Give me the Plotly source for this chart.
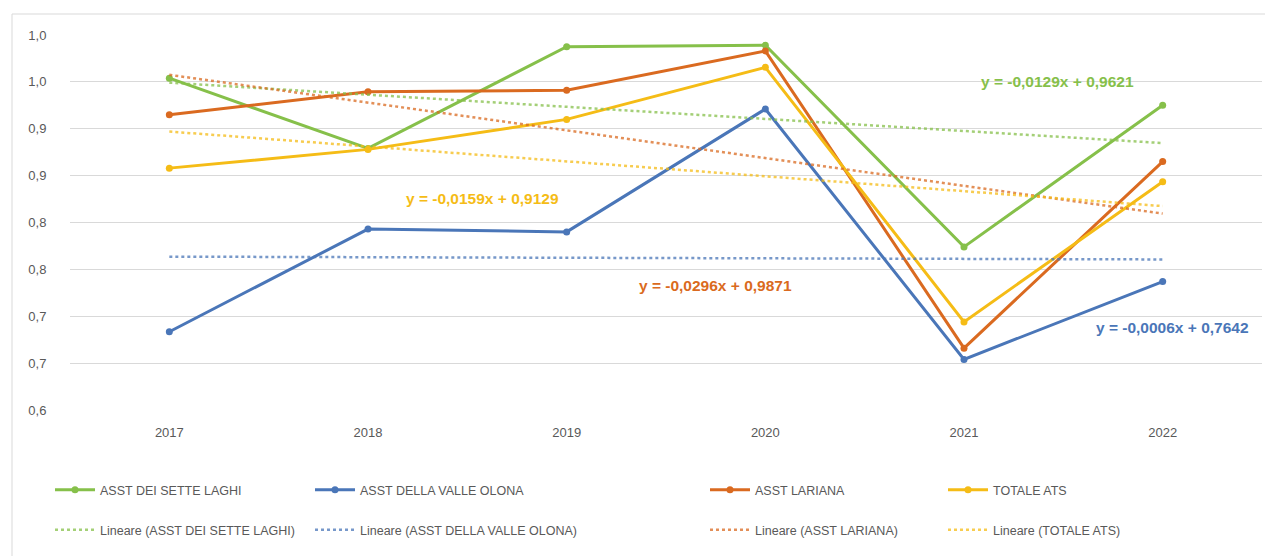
import plotly.graph_objects as go

years = ["2017", "2018", "2019", "2020", "2021", "2022"]
series_names = ["ASST DEI SETTE LAGHI", "ASST DELLA VALLE OLONA", "ASST LARIANA", "TOTALE ATS"]
sette_laghi = [0.954, 0.879, 0.9875, 0.989, 0.774, 0.925]
valle_olona = [0.6835, 0.793, 0.790, 0.921, 0.654, 0.737]
lariana = [0.915, 0.9395, 0.941, 0.983, 0.666, 0.865]
totale_ats = [0.858, 0.878, 0.910, 0.9655, 0.694, 0.8435]
trend_slopes = [-0.0129, -0.0006, -0.0296, -0.0159]
trend_intercepts = [0.9621, 0.7642, 0.9871, 0.9129]
y_tickvals = [0.60, 0.65, 0.70, 0.75, 0.80, 0.85, 0.90, 0.95, 1.00]
y_ticktext = ["0,6", "0,7", "0,7", "0,8", "0,8", "0,9", "0,9", "1,0", "1,0"]

colors = ["#86C04A", "#4A76B8", "#DA6A20", "#F5BC16"]
values = [sette_laghi, valle_olona, lariana, totale_ats]
xs = list(range(1, len(years) + 1))

OFF = 8  # page body margin
W, H = 1273, 556
# desired plot area in screen px: x 70..1262, y 35..410
L = 70 - OFF
T = 35 - OFF
R = W - (1262 - OFF)
B = H - (410 - OFF)
pw, ph = W - L - R, H - T - B

def px_x(p):
    return (p - OFF - L) / pw

def px_y(p):
    return (H - B - (p - OFF)) / ph

font_fam = "Liberation Sans, Arial, sans-serif"

fig = go.Figure()
legend_cols = [50, 310, 705, 943]
legend_rows = [490, 530]
layout_legends = {}
n = 0
for i in range(4):
    n += 1
    lname = "legend" if n == 1 else f"legend{n}"
    fig.add_trace(go.Scatter(
        x=xs, y=values[i], name=series_names[i], mode="lines+markers",
        line=dict(color=colors[i], width=3), marker=dict(size=7, color=colors[i]),
        legend=lname))
    layout_legends[lname] = dict(x=px_x(legend_cols[i]), y=px_y(legend_rows[0]),
                                 xanchor="left", yanchor="middle")
for i in range(4):
    n += 1
    lname = f"legend{n}"
    ty = [trend_slopes[i] * x + trend_intercepts[i] for x in xs]
    fig.add_trace(go.Scatter(
        x=xs, y=ty, name=f"Lineare ({series_names[i]})", mode="lines",
        line=dict(color=colors[i], width=2.5, dash="dot"), opacity=0.75,
        legend=lname))
    layout_legends[lname] = dict(x=px_x(legend_cols[i]), y=px_y(legend_rows[1]),
                                 xanchor="left", yanchor="middle")

for lname, cfg in layout_legends.items():
    cfg.update(font=dict(family=font_fam, size=12.5, color="#595959"),
               bgcolor="rgba(0,0,0,0)", borderwidth=0, itemwidth=40)
fig.update_layout(**layout_legends)

def fmt(v):
    return f"{v:.4f}".replace(".", ",")

eq_pos = [(5.47, 0.950), (6.05, 0.6875), (3.75, 0.7326), (2.575, 0.826)]
for i in range(4):
    s = trend_slopes[i]
    txt = f"y = -{fmt(abs(s))}x + {fmt(trend_intercepts[i])}" if s < 0 else f"y = {fmt(s)}x + {fmt(trend_intercepts[i])}"
    fig.add_annotation(x=eq_pos[i][0], y=eq_pos[i][1], xref="x", yref="y", text=f"<b>{txt}</b>",
                       showarrow=False, font=dict(family=font_fam, size=15.5, color=colors[i]))

# chart area border (top and left)
fig.add_shape(type="line", xref="paper", yref="paper", x0=px_x(12), x1=px_x(W + 10), y0=px_y(14), y1=px_y(14),
              line=dict(color="#D9D9D9", width=1))
fig.add_shape(type="line", xref="paper", yref="paper", x0=px_x(12), x1=px_x(12), y0=px_y(14), y1=px_y(H + 10),
              line=dict(color="#D9D9D9", width=1))

fig.update_layout(
    width=W, height=H, margin=dict(l=L, r=R, t=T, b=B),
    paper_bgcolor="white", plot_bgcolor="white", showlegend=True,
    font=dict(family=font_fam, size=13, color="#595959"),
)
fig.update_xaxes(range=[0.5, len(years) + 0.5], tickvals=xs, ticktext=years, showgrid=False,
                 zeroline=False, showline=False, ticks="outside", ticklen=10, tickcolor="rgba(0,0,0,0)",
                 tickfont=dict(family=font_fam, size=13, color="#595959"))
fig.update_yaxes(range=[0.6, 1.0], tickvals=y_tickvals, ticktext=y_ticktext, showgrid=True,
                 gridcolor="#D9D9D9", gridwidth=1, zeroline=False, showline=False,
                 ticks="outside", ticklen=20, tickcolor="rgba(0,0,0,0)",
                 tickfont=dict(family=font_fam, size=13, color="#595959"))

fig.write_html("out.html")
